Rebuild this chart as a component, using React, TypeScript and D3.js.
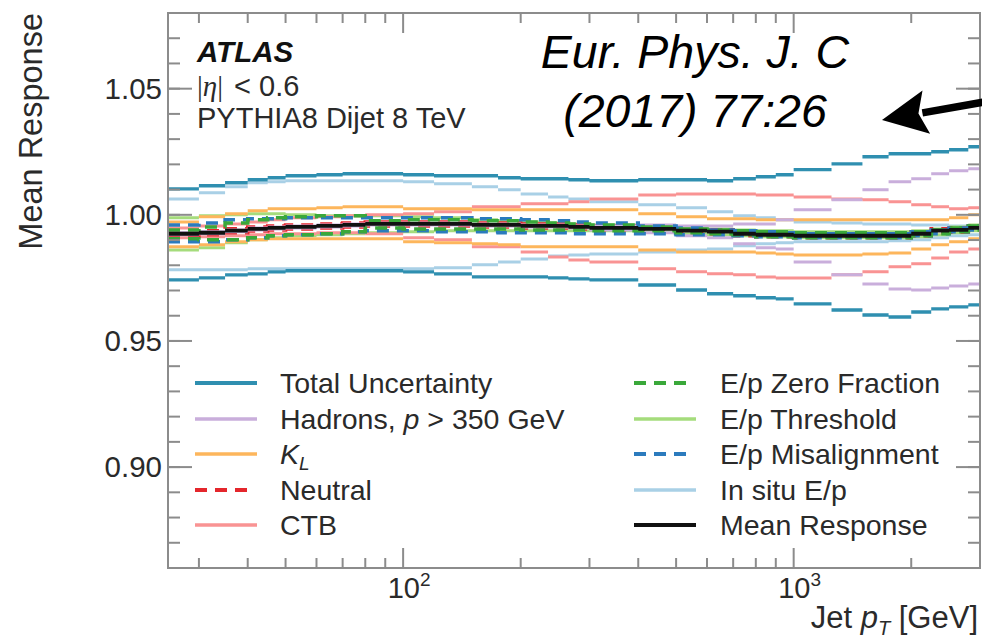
import React from 'react';
import * as d3 from 'd3';

// Jet pT bin edges [GeV]
const ptEdges = [25, 30, 35, 40, 45, 50, 60, 70, 80, 100, 120, 150, 175, 200, 235, 265, 300, 400, 500, 600, 700, 800, 900, 1000, 1250, 1500, 1750, 2000, 2250, 2500, 2800, 3000];

// Mean response per bin
const meanResponse = [0.9925, 0.9929, 0.9937, 0.9944, 0.9948, 0.9952, 0.9956, 0.9960, 0.9964, 0.9964, 0.9964, 0.9960, 0.9960, 0.9956, 0.9956, 0.9952, 0.9948, 0.9944, 0.9937, 0.9933, 0.9925, 0.9921, 0.9921, 0.9917, 0.9917, 0.9917, 0.9917, 0.9925, 0.9937, 0.9940, 0.9948];

// Upper / lower edges of each uncertainty component
const totalUp = [1.0103, 1.0115, 1.0127, 1.0139, 1.0147, 1.0155, 1.0159, 1.0163, 1.0163, 1.0159, 1.0155, 1.0155, 1.0147, 1.0143, 1.0143, 1.0139, 1.0135, 1.0139, 1.0139, 1.0135, 1.0143, 1.0151, 1.0159, 1.0179, 1.0202, 1.0230, 1.0242, 1.0242, 1.0250, 1.0258, 1.0270];
const totalDown = [0.9742, 0.9750, 0.9762, 0.9766, 0.9774, 0.9778, 0.9778, 0.9778, 0.9778, 0.9774, 0.9766, 0.9754, 0.9754, 0.9754, 0.9750, 0.9746, 0.9742, 0.9722, 0.9702, 0.9687, 0.9679, 0.9671, 0.9667, 0.9647, 0.9623, 0.9603, 0.9595, 0.9615, 0.9627, 0.9635, 0.9643];

const insituUp = [1.0063, 1.0087, 1.0111, 1.0127, 1.0131, 1.0135, 1.0135, 1.0135, 1.0135, 1.0131, 1.0123, 1.0111, 1.0099, 1.0083, 1.0071, 1.0063, 1.0052, 1.0040, 1.0028, 1.0012, 0.9996, 0.9988, 0.9980, 0.9972, 0.9968, 0.9964, 0.9964, 0.9960, 0.9960, 0.9956, 0.9956];
const insituDown = [0.9782, 0.9782, 0.9782, 0.9786, 0.9786, 0.9786, 0.9786, 0.9786, 0.9786, 0.9786, 0.9790, 0.9802, 0.9813, 0.9825, 0.9837, 0.9841, 0.9845, 0.9853, 0.9861, 0.9865, 0.9877, 0.9885, 0.9889, 0.9893, 0.9893, 0.9893, 0.9897, 0.9901, 0.9909, 0.9917, 0.9921];

const ctbUp = [0.9948, 0.9956, 0.9964, 0.9972, 0.9980, 0.9988, 0.9992, 0.9996, 1.0000, 1.0004, 1.0012, 1.0032, 1.0032, 1.0044, 1.0044, 1.0052, 1.0063, 1.0079, 1.0083, 1.0083, 1.0083, 1.0079, 1.0079, 1.0071, 1.0063, 1.0060, 1.0052, 1.0040, 1.0032, 1.0024, 1.0028];
const ctbDown = [0.9909, 0.9913, 0.9917, 0.9921, 0.9925, 0.9925, 0.9929, 0.9929, 0.9925, 0.9909, 0.9901, 0.9873, 0.9873, 0.9853, 0.9833, 0.9821, 0.9813, 0.9786, 0.9774, 0.9766, 0.9762, 0.9754, 0.9750, 0.9750, 0.9762, 0.9774, 0.9794, 0.9806, 0.9829, 0.9853, 0.9865];

const klUp = [0.9972, 0.9992, 1.0004, 1.0016, 1.0024, 1.0024, 1.0028, 1.0032, 1.0032, 1.0024, 1.0024, 1.0020, 1.0020, 1.0020, 1.0020, 1.0020, 1.0020, 1.0004, 0.9992, 0.9984, 0.9984, 0.9980, 0.9980, 0.9980, 0.9980, 0.9980, 0.9980, 0.9980, 0.9980, 0.9988, 1.0000];
const klDown = [0.9873, 0.9881, 0.9893, 0.9901, 0.9905, 0.9905, 0.9905, 0.9905, 0.9905, 0.9893, 0.9889, 0.9885, 0.9881, 0.9873, 0.9873, 0.9873, 0.9873, 0.9861, 0.9853, 0.9853, 0.9853, 0.9849, 0.9845, 0.9841, 0.9841, 0.9845, 0.9849, 0.9865, 0.9881, 0.9893, 0.9905];

const thresholdUp = [0.9988, 0.9996, 1.0000, 1.0004, 1.0004, 1.0000, 0.9996, 0.9996, 0.9996, 0.9992, 0.9988, 0.9980, 0.9976, 0.9972, 0.9968, 0.9964, 0.9960, 0.9956, 0.9948, 0.9944, 0.9940, 0.9937, 0.9937, 0.9933, 0.9933, 0.9933, 0.9933, 0.9937, 0.9944, 0.9952, 0.9960];
const thresholdDown = [0.9861, 0.9869, 0.9889, 0.9901, 0.9909, 0.9917, 0.9921, 0.9925, 0.9929, 0.9933, 0.9937, 0.9937, 0.9937, 0.9937, 0.9937, 0.9937, 0.9937, 0.9933, 0.9925, 0.9921, 0.9917, 0.9913, 0.9913, 0.9909, 0.9909, 0.9909, 0.9909, 0.9913, 0.9921, 0.9929, 0.9937];

const zeroFracUp = [0.9940, 0.9952, 0.9968, 0.9980, 0.9988, 0.9992, 0.9996, 0.9996, 0.9976, 0.9980, 0.9980, 0.9976, 0.9976, 0.9972, 0.9968, 0.9964, 0.9960, 0.9952, 0.9944, 0.9940, 0.9937, 0.9933, 0.9933, 0.9929, 0.9929, 0.9929, 0.9929, 0.9933, 0.9940, 0.9948, 0.9956];
const zeroFracDown = [0.9905, 0.9901, 0.9901, 0.9909, 0.9917, 0.9921, 0.9925, 0.9933, 0.9948, 0.9944, 0.9944, 0.9944, 0.9944, 0.9940, 0.9940, 0.9940, 0.9937, 0.9937, 0.9929, 0.9925, 0.9921, 0.9913, 0.9913, 0.9909, 0.9909, 0.9909, 0.9909, 0.9917, 0.9925, 0.9933, 0.9940];

const misalignUp = [0.9960, 0.9968, 0.9980, 0.9984, 0.9984, 0.9988, 0.9988, 0.9988, 0.9988, 0.9988, 0.9988, 0.9984, 0.9984, 0.9980, 0.9976, 0.9972, 0.9968, 0.9956, 0.9948, 0.9940, 0.9937, 0.9933, 0.9929, 0.9925, 0.9925, 0.9925, 0.9925, 0.9933, 0.9940, 0.9948, 0.9956];
const misalignDown = [0.9893, 0.9893, 0.9901, 0.9909, 0.9917, 0.9921, 0.9925, 0.9933, 0.9937, 0.9937, 0.9933, 0.9933, 0.9929, 0.9929, 0.9929, 0.9925, 0.9925, 0.9925, 0.9921, 0.9921, 0.9917, 0.9913, 0.9913, 0.9909, 0.9909, 0.9909, 0.9909, 0.9917, 0.9925, 0.9933, 0.9940];

const neutralUp = [0.9933, 0.9937, 0.9945, 0.9952, 0.9956, 0.9960, 0.9964, 0.9968, 0.9972, 0.9972, 0.9972, 0.9968, 0.9968, 0.9964, 0.9964, 0.9960, 0.9956, 0.9952, 0.9945, 0.9941, 0.9933, 0.9929, 0.9929, 0.9925, 0.9925, 0.9925, 0.9925, 0.9933, 0.9945, 0.9948, 0.9956];
const neutralDown = [0.9917, 0.9921, 0.9929, 0.9936, 0.9940, 0.9944, 0.9948, 0.9952, 0.9956, 0.9956, 0.9956, 0.9952, 0.9952, 0.9948, 0.9948, 0.9944, 0.9940, 0.9936, 0.9929, 0.9925, 0.9917, 0.9913, 0.9913, 0.9909, 0.9909, 0.9909, 0.9909, 0.9917, 0.9929, 0.9932, 0.9940];

const hadronUp = [0.9929, 0.9933, 0.9940, 0.9948, 0.9952, 0.9956, 0.9960, 0.9964, 0.9968, 0.9968, 0.9968, 0.9964, 0.9964, 0.9960, 0.9960, 0.9956, 0.9956, 0.9960, 0.9956, 0.9956, 0.9964, 0.9964, 0.9980, 1.0020, 1.0060, 1.0099, 1.0131, 1.0143, 1.0163, 1.0175, 1.0183];
const hadronDown = [0.9921, 0.9925, 0.9933, 0.9940, 0.9944, 0.9948, 0.9952, 0.9956, 0.9960, 0.9960, 0.9960, 0.9956, 0.9956, 0.9952, 0.9952, 0.9948, 0.9940, 0.9929, 0.9917, 0.9909, 0.9885, 0.9869, 0.9865, 0.9813, 0.9762, 0.9726, 0.9706, 0.9702, 0.9710, 0.9718, 0.9726];

// Axis ticks
const yMajorTicks = [0.9, 0.95, 1.0, 1.05];
const yTickLabels = ['0.90', '0.95', '1.00', '1.05'];
const yMinorTicks = d3.range(0.86, 1.0801, 0.01);
const xMajorTicks = [100, 1000];
const xTickExponents = ['2', '3'];
const xMinorTicks = [30, 40, 50, 60, 70, 80, 90, 200, 300, 400, 500, 600, 700, 800, 900, 2000, 3000];

const FONT = "'Liberation Sans', Arial, Helvetica, sans-serif";
const SERIF = "'Liberation Serif', 'Times New Roman', serif";
const FRAME = '#8c8c8c';
const TXT = '#2a2a2a';

type Series = {
  key: string;
  color: string;
  dashed: boolean;
  width: number;
  up: number[];
  down?: number[];
};

// Drawing order (back to front)
const drawSeries: Series[] = [
  { key: 'insitu', color: '#a9d0e6', dashed: false, width: 3, up: insituUp, down: insituDown },
  { key: 'threshold', color: '#a5dc7c', dashed: false, width: 3, up: thresholdUp, down: thresholdDown },
  { key: 'ctb', color: '#f99393', dashed: false, width: 3, up: ctbUp, down: ctbDown },
  { key: 'kl', color: '#fdb65c', dashed: false, width: 3, up: klUp, down: klDown },
  { key: 'neutral', color: '#e4262c', dashed: true, width: 3.5, up: neutralUp, down: neutralDown },
  { key: 'hadron', color: '#c9aedb', dashed: false, width: 3, up: hadronUp, down: hadronDown },
  { key: 'misalign', color: '#2b7bbd', dashed: true, width: 3.5, up: misalignUp, down: misalignDown },
  { key: 'zerofrac', color: '#3aa83a', dashed: true, width: 3.5, up: zeroFracUp, down: zeroFracDown },
  { key: 'total', color: '#2f8fb0', dashed: false, width: 3.4, up: totalUp, down: totalDown },
  { key: 'mean', color: '#111111', dashed: false, width: 3.8, up: meanResponse },
];

type LegendItem = { label: React.ReactNode; color: string; dashed: boolean; width: number };

const legendLeft: LegendItem[] = [
  { label: 'Total Uncertainty', color: '#2f8fb0', dashed: false, width: 4 },
  {
    label: (
      <>
        Hadrons, <tspan fontStyle="italic">p</tspan> {'>'} 350 GeV
      </>
    ),
    color: '#c9aedb', dashed: false, width: 3.5,
  },
  {
    label: (
      <>
        <tspan fontStyle="italic">K</tspan>
        <tspan fontStyle="italic" fontSize={19} dy={6}>L</tspan>
      </>
    ),
    color: '#fdb65c', dashed: false, width: 3.5,
  },
  { label: 'Neutral', color: '#e4262c', dashed: true, width: 4 },
  { label: 'CTB', color: '#f99393', dashed: false, width: 3.5 },
];

const legendRight: LegendItem[] = [
  { label: 'E/p Zero Fraction', color: '#3aa83a', dashed: true, width: 4 },
  { label: 'E/p Threshold', color: '#a5dc7c', dashed: false, width: 3.5 },
  { label: 'E/p Misalignment', color: '#2b7bbd', dashed: true, width: 4 },
  { label: 'In situ E/p', color: '#a9d0e6', dashed: false, width: 3.5 },
  { label: 'Mean Response', color: '#111111', dashed: false, width: 4 },
];

const W = 982;
const H = 639;
const plot = { left: 168, right: 980, top: 13, bottom: 568 };

export default function App() {
  const x = d3.scaleLog().domain([25, 3000]).range([plot.left, plot.right]);
  const y = d3.scaleLinear().domain([0.86, 1.08]).range([plot.bottom, plot.top]);

  // Solid lines: one horizontal segment per bin
  const segmentPath = (vals: number[]) =>
    vals
      .map((v, i) => `M${x(ptEdges[i])},${y(v)}H${x(ptEdges[i + 1])}`)
      .join('');

  // Dashed lines: continuous step path so the dash pattern runs across bins
  const stepLine = d3
    .line<[number, number]>()
    .x((d) => x(d[0]))
    .y((d) => y(d[1]))
    .curve(d3.curveStepAfter);
  const stepPath = (vals: number[]) =>
    stepLine([...vals.map((v, i) => [ptEdges[i], v] as [number, number]), [ptEdges[ptEdges.length - 1], vals[vals.length - 1]]]) || '';

  const pathFor = (s: Series, vals: number[]) => (s.dashed ? stepPath(vals) : segmentPath(vals));

  // Arrow pointing at the reference text
  const arrowTip: [number, number] = [882, 120];
  const arrowTail: [number, number] = [990, 101];
  const dx = arrowTail[0] - arrowTip[0];
  const dy = arrowTail[1] - arrowTip[1];
  const len = Math.hypot(dx, dy);
  const ux = dx / len, uy = dy / len;
  const headLen = 45, headHalf = 22;
  const bx = arrowTip[0] + ux * headLen, by = arrowTip[1] + uy * headLen;
  const nx = bx - ux * 8, ny = by - uy * 8;
  const head = `M${arrowTip[0]},${arrowTip[1]}L${bx - uy * headHalf},${by + ux * headHalf}L${nx},${ny}L${bx + uy * headHalf},${by - ux * headHalf}Z`;

  const legendRows = [383, 419, 454, 490, 525];

  const renderLegend = (items: LegendItem[], x0: number, xText: number) =>
    items.map((it, i) => (
      <g key={i}>
        <line
          x1={x0}
          x2={it.dashed ? x0 + 52 : x0 + 62}
          y1={legendRows[i]}
          y2={legendRows[i]}
          stroke={it.color}
          strokeWidth={it.width}
          strokeDasharray={it.dashed ? '12 8' : undefined}
        />
        <text x={xText} y={legendRows[i] + 10} fontSize={28.5} fill={TXT} fontFamily={FONT}>
          {it.label}
        </text>
      </g>
    ));

  return (
    <div style={{ position: 'absolute', left: 0, top: 0 }}>
      <svg width={W} height={H} viewBox={`0 0 ${W} ${H}`} style={{ display: 'block', background: '#fff' }}>
        <defs>
          <clipPath id="plotArea">
            <rect x={plot.left} y={plot.top} width={plot.right - plot.left} height={plot.bottom - plot.top} />
          </clipPath>
        </defs>
        <rect x={0} y={0} width={W} height={H} fill="#fff" />

        {/* response curves */}
        <g clipPath="url(#plotArea)" fill="none">
          {drawSeries.map((s) => (
            <g key={s.key} stroke={s.color} strokeWidth={s.width} strokeDasharray={s.dashed ? '12 8' : undefined}>
              <path d={pathFor(s, s.up)} />
              {s.down && <path d={pathFor(s, s.down)} />}
            </g>
          ))}
        </g>

        {/* frame */}
        <rect
          x={plot.left}
          y={plot.top}
          width={plot.right - plot.left}
          height={plot.bottom - plot.top}
          fill="none"
          stroke={FRAME}
          strokeWidth={2}
        />

        {/* y ticks, both sides */}
        <g stroke={FRAME} strokeWidth={2}>
          {yMinorTicks.map((v, i) => (
            <g key={i}>
              <line x1={plot.left} x2={plot.left + 12} y1={y(v)} y2={y(v)} />
              <line x1={plot.right} x2={plot.right - 12} y1={y(v)} y2={y(v)} />
            </g>
          ))}
          {yMajorTicks.map((v, i) => (
            <g key={i}>
              <line x1={plot.left} x2={plot.left + 24} y1={y(v)} y2={y(v)} />
              <line x1={plot.right} x2={plot.right - 24} y1={y(v)} y2={y(v)} />
            </g>
          ))}
          {xMinorTicks.map((v, i) => (
            <g key={i}>
              <line x1={x(v)} x2={x(v)} y1={plot.bottom} y2={plot.bottom - 10} />
              <line x1={x(v)} x2={x(v)} y1={plot.top} y2={plot.top + 10} />
            </g>
          ))}
          {xMajorTicks.map((v, i) => (
            <g key={i}>
              <line x1={x(v)} x2={x(v)} y1={plot.bottom} y2={plot.bottom - 20} />
              <line x1={x(v)} x2={x(v)} y1={plot.top} y2={plot.top + 20} />
            </g>
          ))}
        </g>

        {/* tick labels */}
        <g fontFamily={FONT} fill={TXT}>
          {yMajorTicks.map((v, i) => (
            <text key={i} x={162} y={y(v) + 10} fontSize={29.5} textAnchor="end">
              {yTickLabels[i]}
            </text>
          ))}
          {xMajorTicks.map((v, i) => (
            <text key={i} x={x(v) + 6} y={598} fontSize={29} textAnchor="middle">
              10
              <tspan fontSize={19} dy={-12}>
                {xTickExponents[i]}
              </tspan>
            </text>
          ))}
        </g>

        {/* axis titles */}
        <text
          transform={`translate(42,${plot.top}) rotate(-90)`}
          textAnchor="end"
          fontSize={32.5}
          fontFamily={FONT}
          fill={TXT}
        >
          Mean Response
        </text>
        <text x={978} y={628} textAnchor="end" fontSize={31} fontFamily={FONT} fill={TXT}>
          Jet <tspan fontStyle="italic">p</tspan>
          <tspan fontSize={20} fontStyle="italic" dy={7}>T</tspan>
          <tspan dy={-7}> [GeV]</tspan>
        </text>

        {/* labels */}
        <g fontFamily={FONT} fill={TXT}>
          <text x={197} y={62} fontSize={29.5} fontWeight="bold" fontStyle="italic" fill="#111">
            ATLAS
          </text>
          <text x={197} y={96} fontSize={29}>
            <tspan fontFamily={SERIF}>|</tspan>
            <tspan fontFamily={SERIF} fontStyle="italic">η</tspan>
            <tspan fontFamily={SERIF}>|</tspan>
            <tspan dx={11}>{'< 0.6'}</tspan>
          </text>
          <text x={197} y={128} fontSize={29}>
            PYTHIA8 Dijet 8 TeV
          </text>
        </g>

        {/* legend */}
        {renderLegend(legendLeft, 195, 280)}
        {renderLegend(legendRight, 634, 720)}

        {/* publication reference */}
        <g fontFamily={FONT} fontStyle="italic" fill="#000" textAnchor="middle" fontSize={46.5}>
          <text x={695} y={68}>Eur. Phys. J. C</text>
          <text x={695} y={127}>(2017) 77:26</text>
        </g>
        <line x1={arrowTail[0]} y1={arrowTail[1]} x2={bx - ux * 4} y2={by - uy * 4} stroke="#000" strokeWidth={7.5} />
        <path d={head} fill="#000" />
      </svg>
    </div>
  );
}
